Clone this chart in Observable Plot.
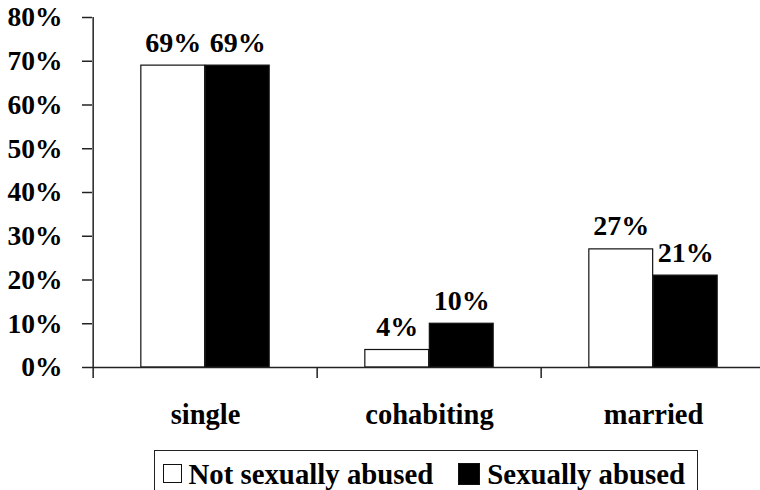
<!DOCTYPE html>
<html>
<head>
<meta charset="utf-8">
<script src="https://cdn.jsdelivr.net/npm/d3@7"></script>
<script src="https://cdn.jsdelivr.net/npm/@observablehq/plot@0.6"></script>
<style>
  html, body { margin: 0; padding: 0; background: #fff; overflow: hidden; }
  #wrap { position: relative; width: 760px; height: 490px; font-family: "Liberation Serif", "Times New Roman", serif; font-weight: bold; }
  #legend { position: absolute; left: 154px; top: 450px; width: 544px; height: 60px;
    border: 1.5px solid #222; border-bottom: none; box-sizing: border-box;
    display: flex; align-items: flex-start; padding: 10px 0 0 7.5px; font-size: 28.8px; line-height: 27px; color: #000; }
  .sw { width: 19px; height: 19px; box-sizing: border-box; border: 1.5px solid #111; margin-top: 3px; flex: none; }
  .item { display: flex; align-items: flex-start; white-space: nowrap; }
</style>
</head>
<body>
<div id="wrap">
  <div id="chart"></div>
  <div id="legend"></div>
</div>
<script>
const categories = ["single", "cohabiting", "married"];
const notAbused = [69, 4, 27];
const abused = [69, 10, 21];
const seriesNames = ["Not sexually abused", "Sexually abused"];
const seriesFill = ["white", "black"];
const yTicks = [0, 10, 20, 30, 40, 50, 60, 70, 80];

const rows = [];
categories.forEach((c, i) => {
  rows.push({cat: c, series: seriesNames[0], value: notAbused[i]});
  rows.push({cat: c, series: seriesNames[1], value: abused[i]});
});

const width = 760, height = 448;
const mL = 92, mR = -6, mT = 17, mB = 81;
const bw = (width - mL - mR) / categories.length;
const barW = 64.5;
const outer = bw / 2 - barW;
const font = "'Liberation Serif', 'Times New Roman', serif";

const chart = Plot.plot({
  width, height,
  marginLeft: mL, marginRight: mR, marginTop: mT, marginBottom: mB,
  style: {fontFamily: font, fontSize: "28px", fontWeight: "bold", color: "black", background: "white", overflow: "visible"},
  x: {domain: categories, padding: 0, axis: null, label: null},
  y: {domain: [0, 80], axis: null, label: null},
  marks: [
    Plot.barY(rows.filter(d => d.series === seriesNames[0]), {x: "cat", y: "value", fill: seriesFill[0], stroke: "#111", strokeWidth: 1.2, insetLeft: outer, insetRight: bw / 2}),
    Plot.barY(rows.filter(d => d.series === seriesNames[1]), {x: "cat", y: "value", fill: seriesFill[1], stroke: "#111", strokeWidth: 1.2, insetLeft: bw / 2, insetRight: outer}),
    Plot.ruleY([0], {stroke: "#222", strokeWidth: 1.5}),
    // y axis line + left boundary tick
    Plot.ruleX([categories[0]], {x: d => d, y1: 80, y2: -2.5, dx: -bw / 2, stroke: "#222", strokeWidth: 1.5}),
    // category boundary ticks
    Plot.ruleX(categories.slice(1), {x: d => d, y1: 0, y2: -2.5, dx: -bw / 2, stroke: "#222", strokeWidth: 1.5}),
    Plot.ruleX([categories[categories.length - 1]], {x: d => d, y1: 0, y2: -2.5, dx: bw / 2, stroke: "#222", strokeWidth: 1.5}),
    Plot.axisY({ticks: yTicks, tickFormat: d => d + "%", tickSize: 10, tickPadding: 20, fontSize: 27.5, fontFamily: font, stroke: "#222", strokeWidth: 1.5, label: null}),
    Plot.axisX({tickSize: 0, tickPadding: 36, fontSize: 28.5, fontFamily: font, label: null}),
    Plot.text(rows.filter(d => d.series === seriesNames[0]), {x: "cat", y: "value", text: d => d.value + "%", dx: -barW / 2, dy: -23, fontSize: 28, fontFamily: font, fill: "black"}),
    Plot.text(rows.filter(d => d.series === seriesNames[1]), {x: "cat", y: "value", text: d => d.value + "%", dx: barW / 2, dy: -23, fontSize: 28, fontFamily: font, fill: "black"})
  ]
});
document.getElementById("chart").appendChild(chart);

const legend = document.getElementById("legend");
seriesNames.forEach((name, i) => {
  const item = document.createElement("div");
  item.className = "item";
  if (i > 0) item.style.marginLeft = "25px";
  const sw = document.createElement("div");
  sw.className = "sw";
  sw.style.background = seriesFill[i];
  if (i > 0) { sw.style.width = "22px"; sw.style.height = "22px"; sw.style.marginTop = "2px"; }
  const t = document.createElement("span");
  t.textContent = name;
  t.style.marginLeft = "7px";
  item.appendChild(sw);
  item.appendChild(t);
  legend.appendChild(item);
});
</script>
</body>
</html>
